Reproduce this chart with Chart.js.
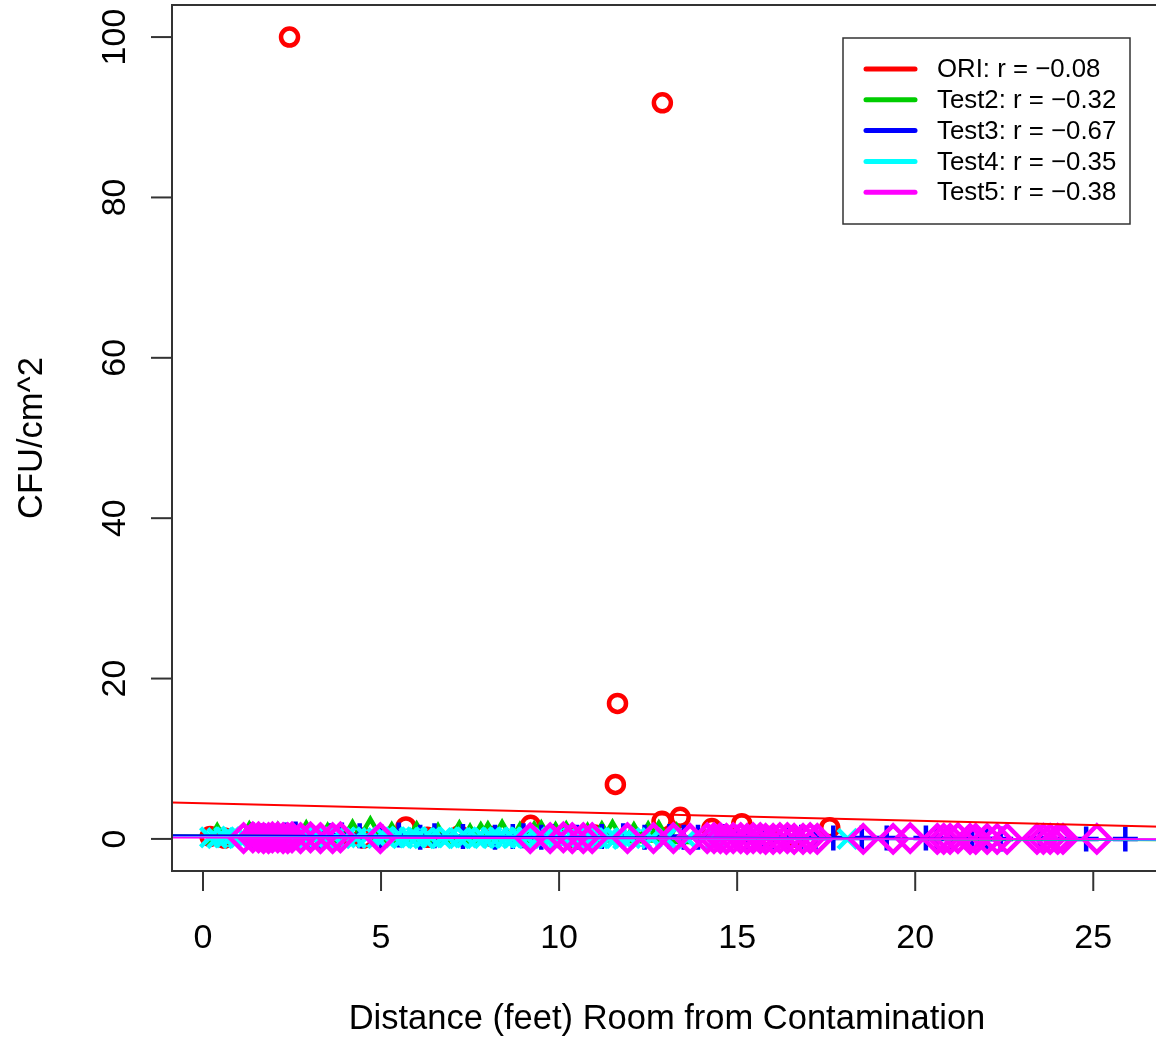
<!DOCTYPE html>
<html>
<head>
<meta charset="utf-8">
<script src="https://cdn.jsdelivr.net/npm/chart.js@4.4.1/dist/chart.umd.min.js"></script>
<style>
html, body { margin: 0; padding: 0; background: #fff; overflow: hidden; }
canvas { display: block; }
</style>
</head>
<body>
<canvas id="myChart" width="1170" height="1040"></canvas>
<script>
// ---- data ----
const seriesNames = ['ORI', 'Test2', 'Test3', 'Test4', 'Test5'];
const seriesR = ['\u22120.08', '\u22120.32', '\u22120.67', '\u22120.35', '\u22120.38'];
const seriesColors = ['#ff0000', '#00cd00', '#0000ff', '#00ffff', '#ff00ff'];

const oriX = [0.2, 0.6, 1.5, 2.0, 2.43, 3.1, 3.8, 4.5, 5.7, 6.3, 7.2, 8.1, 9.2, 10.3, 11.0, 11.58, 11.64, 12.9, 12.89, 13.4, 14.29, 15.13, 15.9, 16.6, 17.6];
const oriY = [0.3, 0.1, 0.2, 0.4, 100, 0.2, 0.3, 0.1, 1.5, 0.2, 0.4, 0.3, 1.7, 0.2, 0.5, 6.8, 16.9, 91.8, 2.2, 2.7, 1.3, 1.9, 0.3, 0.2, 1.4];

const test2X = [0.4, 1.3, 2.1, 2.9, 3.5, 4.2, 4.7, 5.3, 6.0, 6.6, 7.2, 7.5, 7.8, 8.0, 8.4, 8.9, 9.3, 9.5, 9.9, 10.2, 10.8, 11.2, 11.5, 12.1, 12.5, 12.8, 13.3];
const test2Y = [0.3, 0.5, 0.4, 0.6, 0.3, 0.7, 1.1, 0.4, 0.5, 0.3, 0.6, 0.2, 0.4, 0.5, 0.7, 0.4, 0.5, 0.6, 0.4, 0.5, 0.3, 0.5, 0.7, 0.4, 0.5, 0.6, 0.3];

const test3X = [1.4, 1.7, 1.9, 2.3, 2.6, 3.0, 3.3, 3.6, 3.9, 4.4, 5.0, 5.5, 6.1, 6.5, 7.3, 8.2, 8.7, 9.0, 9.5, 9.8, 10.5, 11.2, 11.8, 12.4, 13.1, 13.5, 13.9, 14.6, 15.0, 15.3, 15.7, 16.0, 16.4, 16.8, 17.2, 17.7, 18.5, 19.2, 20.3, 20.6, 21.0, 21.6, 22.0, 22.4, 23.5, 23.9, 24.8, 25.9];
const test3Y = [0.5, 0.4, 0.3, 0.5, 0.6, 0.3, 0.2, 0.4, 0.5, 0.4, 0.3, 0.5, 0.2, 0.4, 0.3, 0.2, 0.3, 0.4, 0.2, 0.3, 0.2, 0.3, 0.4, 0.2, 0.3, 0.2, 0.2, 0.3, 0.2, 0.2, 0.1, 0.1, 0.2, 0.2, 0.1, 0.1, 0.1, 0.1, 0.1, 0.0, 0.1, 0.1, 0.0, 0.0, 0.1, 0.0, 0.0, 0.0];

const test4X = [0.2, 0.4, 0.6, 0.8, 1.0, 1.2, 1.5, 1.9, 2.2, 2.5, 2.8, 3.1, 3.4, 3.7, 4.0, 4.3, 4.6, 4.9, 5.1, 5.4, 5.6, 5.8, 6.0, 6.2, 6.4, 6.7, 6.9, 7.2, 7.4, 7.7, 7.9, 8.1, 8.3, 8.5, 8.7, 8.9, 9.1, 9.4, 9.6, 9.8, 10.0, 10.2, 10.4, 10.7, 10.9, 11.1, 11.4, 11.6, 11.8, 12.0, 12.3, 12.6, 13.0, 13.6, 14.4, 18.1];
const test4Y = [0.2, 0.1, 0.2, 0.3, 0.1, 0.2, 0.1, 0.2, 0.2, 0.1, 0.3, 0.2, 0.1, 0.2, 0.2, 0.1, 0.2, 0.1, 0.3, 0.2, 0.1, 0.2, 0.2, 0.1, 0.2, 0.1, 0.2, 0.1, 0.2, 0.1, 0.1, 0.2, 0.2, 0.1, 0.1, 0.2, 0.2, 0.1, 0.1, 0.2, 0.1, 0.1, 0.2, 0.1, 0.1, 0.1, 0.1, 0.1, 0.0, 0.1, 0.1, 0.1, 0.1, 0.0, 0.0, 0.0];

const test5X = [1.14, 1.4, 1.56, 1.7, 1.84, 1.95, 2.10, 2.25, 2.38, 2.5, 2.74, 3.02, 3.30, 3.64, 3.86, 4.98, 9.19, 9.75, 10.12, 10.37, 10.68, 10.93, 11.92, 12.65, 13.21, 13.68, 14.16, 14.35, 14.53, 14.7, 14.89, 15.1, 15.28, 15.45, 15.65, 15.8, 16.01, 16.2, 16.41, 16.6, 16.85, 17.05, 17.25, 18.54, 19.38, 19.86, 20.62, 20.8, 20.98, 21.2, 21.54, 21.7, 22.02, 22.3, 22.58, 23.42, 23.6, 23.79, 24.0, 24.15, 25.10];
const test5Y = [0.1, 0.2, 0.2, 0.1, 0.1, 0.2, 0.2, 0.1, 0.1, 0.2, 0.1, 0.2, 0.1, 0.1, 0.2, 0.1, 0.1, 0.1, 0.2, 0.1, 0.1, 0.1, 0.1, 0.1, 0.1, 0.0, 0.1, 0.1, 0.1, 0.0, 0.1, 0.1, 0.0, 0.1, 0.1, 0.0, 0.0, 0.1, 0.1, 0.0, 0.0, 0.1, 0.0, 0.0, 0.0, 0.1, 0.0, 0.0, 0.0, 0.1, 0.0, 0.0, 0.0, 0.0, 0.0, 0.0, 0.0, 0.0, 0.0, 0.0, 0.0];

// fitted lines: value at left and right edge of the plot
const fitLineX = [-0.87, 26.93];
const oriFit = [4.53, 1.51];
const test2Fit = [0.45, -0.15];
const test3Fit = [0.45, -0.1];
const test4Fit = [0.25, -0.1];
const test5Fit = [0.18, -0.05];

const xTicks = [0, 5, 10, 15, 20, 25];
const yTicks = [0, 20, 40, 60, 80, 100];
const xTitle = 'Distance (feet) Room from Contamination';
const yTitle = 'CFU/cm^2';

// ---- build datasets ----
function toPoints(xs, ys) {
    return xs.map((x, i) => ({ x: x, y: ys[i] }));
}

const pointSets = [
    { xs: oriX, ys: oriY, style: 'circle', radius: 8.5 },
    { xs: test2X, ys: test2Y, style: 'triangle', radius: 11 },
    { xs: test3X, ys: test3Y, style: 'cross', radius: 12.5 },
    { xs: test4X, ys: test4Y, style: 'crossRot', radius: 13.5 },
    { xs: test5X, ys: test5Y, style: 'rectRot', radius: 13.5 }
];
const fits = [oriFit, test2Fit, test3Fit, test4Fit, test5Fit];

const datasets = [];
pointSets.forEach((s, i) => {
    datasets.push({
        type: 'scatter',
        label: seriesNames[i],
        data: toPoints(s.xs, s.ys),
        pointStyle: s.style,
        pointRadius: s.radius,
        pointBorderWidth: 4.5,
        borderColor: seriesColors[i],
        backgroundColor: 'rgba(0,0,0,0)',
        showLine: false,
        order: 20 - i // later series on top
    });
});
fits.forEach((f, i) => {
    datasets.push({
        type: 'line',
        label: seriesNames[i] + ' fit',
        data: toPoints(fitLineX, f),
        borderColor: seriesColors[i],
        borderWidth: 2,
        pointRadius: 0,
        fill: false,
        order: 10 - i
    });
});

const FONT = '"Liberation Sans", Arial, sans-serif';

// R-style box, axes and legend
const rPlotPlugin = {
    id: 'rPlot',
    afterDraw(chart) {
        const ctx = chart.ctx;
        const area = chart.chartArea;
        const xs = chart.scales.x;
        const ys = chart.scales.y;
        ctx.save();

        ctx.strokeStyle = '#333';
        ctx.lineWidth = 2;
        ctx.strokeRect(area.left, area.top, area.right - area.left, area.bottom - area.top);

        ctx.fillStyle = '#000';
        ctx.font = '34px ' + FONT;

        // x axis
        ctx.textAlign = 'center';
        ctx.textBaseline = 'alphabetic';
        xTicks.forEach(v => {
            const px = xs.getPixelForValue(v);
            ctx.beginPath();
            ctx.moveTo(px, area.bottom);
            ctx.lineTo(px, area.bottom + 20);
            ctx.stroke();
            ctx.fillText(String(v), px, area.bottom + 77);
        });
        ctx.font = '34.5px ' + FONT;
        ctx.fillText(xTitle, (area.left + area.right) / 2, area.bottom + 158);

        // y axis
        ctx.font = '34px ' + FONT;
        yTicks.forEach(v => {
            const py = ys.getPixelForValue(v);
            ctx.beginPath();
            ctx.moveTo(area.left, py);
            ctx.lineTo(area.left - 21, py);
            ctx.stroke();
            ctx.save();
            ctx.translate(area.left - 47, py);
            ctx.rotate(-Math.PI / 2);
            ctx.fillText(String(v), 0, 0);
            ctx.restore();
        });
        ctx.font = '34.5px ' + FONT;
        ctx.save();
        ctx.translate(area.left - 130, (area.top + area.bottom) / 2);
        ctx.rotate(-Math.PI / 2);
        ctx.fillText(yTitle, 0, 0);
        ctx.restore();

        // legend
        const lx = 843, ly = 38, lw = 287, lh = 186;
        ctx.fillStyle = '#fff';
        ctx.fillRect(lx, ly, lw, lh);
        ctx.strokeStyle = '#333';
        ctx.lineWidth = 1.5;
        ctx.strokeRect(lx, ly, lw, lh);
        ctx.font = '25.8px ' + FONT;
        ctx.textAlign = 'left';
        ctx.textBaseline = 'middle';
        seriesNames.forEach((name, i) => {
            const y = 69 + i * 30.8;
            ctx.strokeStyle = seriesColors[i];
            ctx.lineWidth = 5;
            ctx.lineCap = 'round';
            ctx.beginPath();
            ctx.moveTo(866, y);
            ctx.lineTo(915, y);
            ctx.stroke();
            ctx.fillStyle = '#000';
            ctx.fillText(name + ': r = ' + seriesR[i], 937, y + 1);
        });
        ctx.restore();
    }
};

let myChart = new Chart(document.getElementById('myChart').getContext('2d'), {
    data: { datasets: datasets },
    options: {
        responsive: false,
        animation: false,
        layout: { autoPadding: false, padding: { left: 172, top: 5, right: 8, bottom: 169 } },
        plugins: { legend: { display: false }, tooltip: { enabled: false } },
        scales: {
            x: { type: 'linear', min: -0.87, max: 26.93, display: false },
            y: { type: 'linear', min: -4, max: 104, display: false }
        }
    },
    plugins: [rPlotPlugin]
});
</script>
</body>
</html>
